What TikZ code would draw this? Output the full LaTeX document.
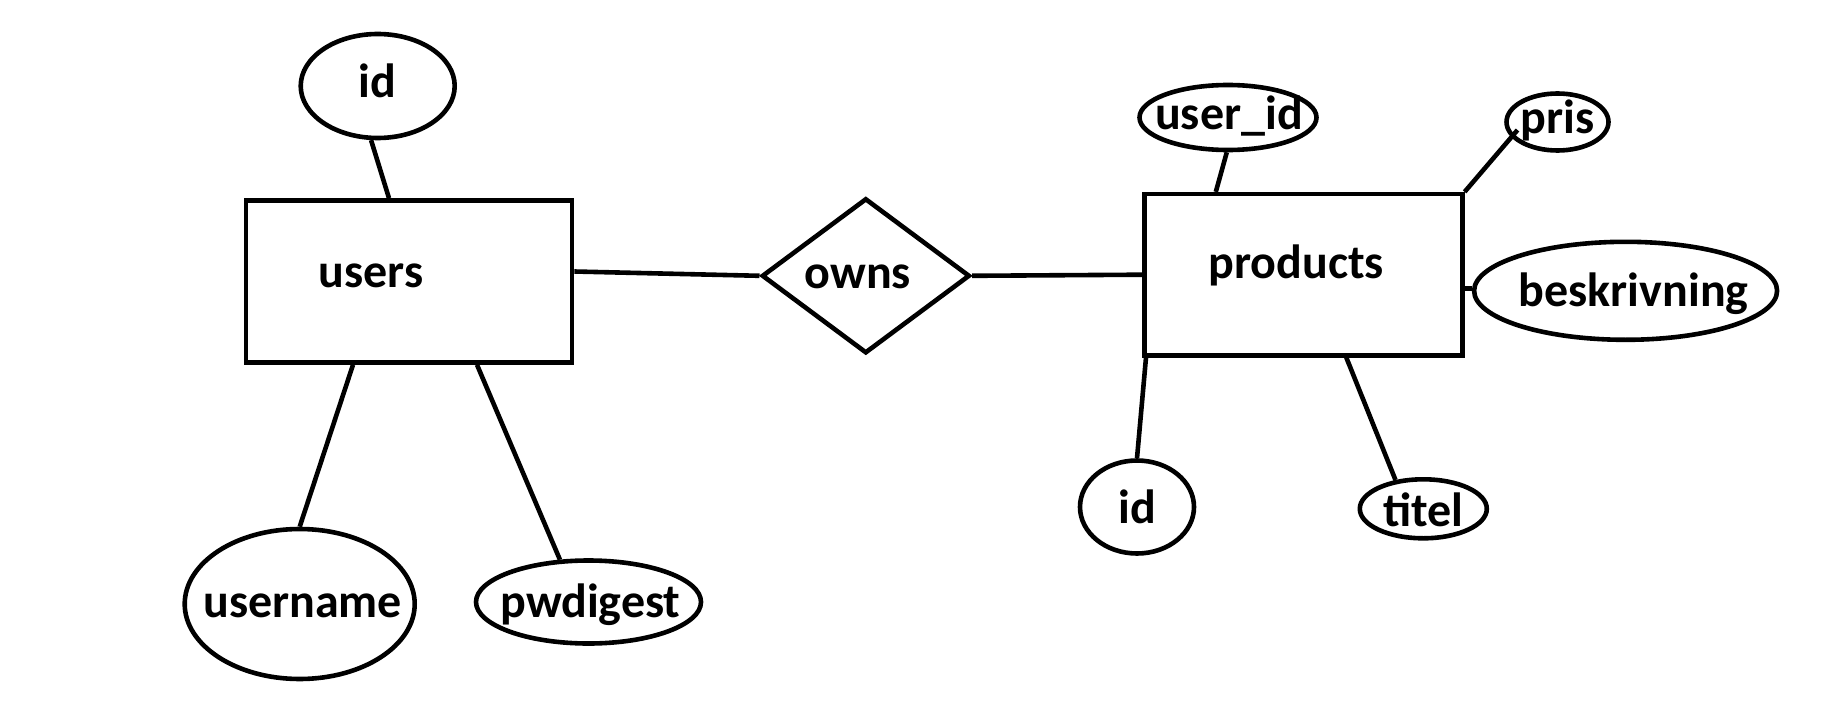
\documentclass[tikz,border=0pt]{standalone}
\usepackage{fontspec}
\setmainfont{Carlito}
\usetikzlibrary{shapes.geometric}
\begin{document}
\begin{tikzpicture}[x=1pt,y=-1pt,
  every node/.style={font=\fontsize{48pt}{56pt}\selectfont\bfseries, inner sep=0pt},
  shapeline/.style={draw, line width=4.6pt},
  entity/.style={shapeline, rectangle},
  attr/.style={shapeline, ellipse},
  rel/.style={shapeline, diamond},
  conn/.style={line width=4.6pt}]
\useasboundingbox (0,0) rectangle (1836,714);
% entities
\node[entity, minimum width=326pt, minimum height=162pt,
      label={[xshift=-38pt,yshift=6pt]center:users}] (users) at (409,281.5) {};
\node[entity, minimum width=318pt, minimum height=161pt,
      label={[xshift=-7pt,yshift=9pt]center:products}] (products) at (1303.3,274.7) {};
% relationship
\node[rel, minimum width=208pt, minimum height=155pt,
      label={[xshift=-8pt,yshift=-1pt]center:owns}] (owns) at (865.8,275.8) {};
% attributes of users
\node[attr, minimum width=154pt, minimum height=104pt,
      label={[yshift=5pt]center:id}] (uid) at (377.7,86) {};
\node[attr, minimum width=230pt, minimum height=150pt,
      label={[xshift=3pt,yshift=-2pt]center:username}] (username) at (299.7,604) {};
\node[attr, minimum width=225pt, minimum height=83pt,
      label={[xshift=2pt,yshift=-3pt]center:pwdigest}] (pwdigest) at (588.5,602) {};
% attributes of products
\node[attr, minimum width=177pt, minimum height=65pt,
      label={[xshift=1pt,yshift=1pt]center:user\_id}] (userid) at (1228,117.5) {};
\node[attr, minimum width=102pt, minimum height=57pt,
      label={[yshift=2pt]center:pris}] (pris) at (1557.5,122) {};
\node[attr, minimum width=303pt, minimum height=98pt,
      label={[xshift=8pt,yshift=-3pt]center:beskrivning}] (beskr) at (1625.6,290.8) {};
\node[attr, minimum width=114pt, minimum height=93pt,
      label={center:id}] (pid) at (1137,507) {};
\node[attr, minimum width=127pt, minimum height=59pt,
      label={[yshift=-1pt]center:titel}] (titel) at (1423.3,508.8) {};
% connectors
\draw[conn] (uid.-97) -- ([xshift=-20pt]users.north);
\draw[conn] ([yshift=10pt]users.east) -- (owns.west);
\draw[conn] (owns.east) -- (products.west);
\draw[conn] ([xshift=-56pt]users.south) -- (username.north);
\draw[conn] ([xshift=68pt]users.south) -- (pwdigest.124);
\draw[conn] ([xshift=-87.5pt]products.north) -- (userid.-92);
\draw[conn] (products.north east) -- ([xshift=-40pt,yshift=-8pt]pris.center);
\draw[conn] ([yshift=-14pt]products.east) -- ([yshift=-14pt]products.east -| beskr.west);
\draw[conn] ([xshift=4pt]products.south west) -- (pid.north);
\draw[conn] ([xshift=43pt]products.south) -- (titel.134);
\end{tikzpicture}
\end{document}
